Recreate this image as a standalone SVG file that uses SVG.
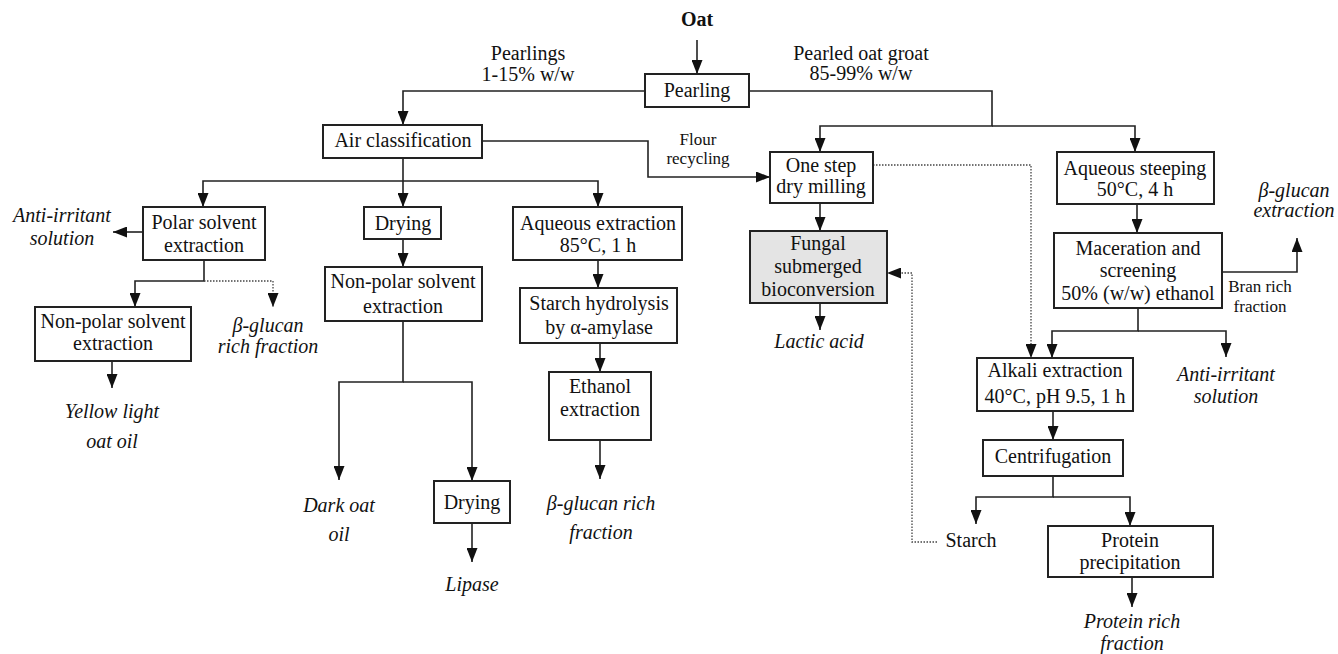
<svg xmlns="http://www.w3.org/2000/svg" width="1338" height="654" viewBox="0 0 1338 654">
<style>
.t{font-family:"Liberation Serif","Times New Roman",serif;font-size:20px;fill:#111;text-anchor:middle}
.i{font-style:italic}
.s{font-size:17px}
.b{font-weight:bold}
.box{fill:#fff;stroke:#222;stroke-width:2}
.grey{fill:#e4e4e4}
.c{fill:none;stroke:#222;stroke-width:1.6}
.d{fill:none;stroke:#444;stroke-width:1.3;stroke-dasharray:1.5,1.5}
</style>
<defs>
<marker id="ah" markerUnits="userSpaceOnUse" viewBox="0 0 14 11" refX="14" refY="5.5" markerWidth="14" markerHeight="11" orient="auto">
<path d="M0,0 L14,5.5 L0,11 z" fill="#111"/>
</marker>
</defs>
<rect width="1338" height="654" fill="#fff"/>
<g id="connectors">
<path class="c" d="M697,40 V74" marker-end="url(#ah)"/>
<path class="c" d="M645,91 H403 V125" marker-end="url(#ah)"/>
<path class="c" d="M749,91 H992 V126 H820 V152" marker-end="url(#ah)"/>
<path class="c" d="M992,126 H1135 V152" marker-end="url(#ah)"/>
<path class="c" d="M482,141 H648 V177 H770" marker-end="url(#ah)"/>
<path class="c" d="M403,158 V207" marker-end="url(#ah)"/>
<path class="c" d="M403,181 H203 V207" marker-end="url(#ah)"/>
<path class="c" d="M403,181 H598 V207" marker-end="url(#ah)"/>
<path class="c" d="M143,232 H113" marker-end="url(#ah)"/>
<path class="c" d="M204,260 V281 H135 V307" marker-end="url(#ah)"/>
<path class="d" d="M204,281 H273 V307" marker-end="url(#ah)"/>
<path class="c" d="M112,361 V388" marker-end="url(#ah)"/>
<path class="c" d="M403,239 V267" marker-end="url(#ah)"/>
<path class="c" d="M403,321 V382 H339 V480" marker-end="url(#ah)"/>
<path class="c" d="M403,382 H472 V481" marker-end="url(#ah)"/>
<path class="c" d="M472,523 V562" marker-end="url(#ah)"/>
<path class="c" d="M598,260 V288" marker-end="url(#ah)"/>
<path class="c" d="M600,343 V372" marker-end="url(#ah)"/>
<path class="c" d="M600,440 V479" marker-end="url(#ah)"/>
<path class="c" d="M820,203 V231" marker-end="url(#ah)"/>
<path class="c" d="M820,303 V330" marker-end="url(#ah)"/>
<path class="d" d="M873,165 H1031 V358" marker-end="url(#ah)"/>
<path class="d" d="M937,542 H912 V273 H887" marker-end="url(#ah)"/>
<path class="c" d="M1137,204 V233" marker-end="url(#ah)"/>
<path class="c" d="M1222,272 H1297 V238" marker-end="url(#ah)"/>
<path class="c" d="M1138,308 V331 H1052 V358" marker-end="url(#ah)"/>
<path class="c" d="M1138,331 H1226 V357" marker-end="url(#ah)"/>
<path class="c" d="M1053,411 V440" marker-end="url(#ah)"/>
<path class="c" d="M1053,476 V497 H976 V524" marker-end="url(#ah)"/>
<path class="c" d="M1053,497 H1130 V526" marker-end="url(#ah)"/>
<path class="c" d="M1132,577 V607" marker-end="url(#ah)"/>
</g>
<g id="labels">
<text class="t" x="528" y="60">Pearlings</text>
<text class="t" x="528" y="81">1-15% w/w</text>
<text class="t" x="861" y="60">Pearled oat groat</text>
<text class="t" x="861" y="80">85-99% w/w</text>
<text class="t s" x="698" y="145">Flour</text>
<text class="t s" x="698" y="164">recycling</text>
<text class="t s" x="1260" y="292">Bran rich</text>
<text class="t s" x="1260" y="312">fraction</text>
</g>
<g id="oat"><text class="t b" x="697" y="26">Oat</text></g>
<g id="pearling"><rect class="box" x="645" y="74" width="104" height="33"/><text class="t" x="697" y="97">Pearling</text></g>
<g id="air-classification"><rect class="box" x="323" y="125" width="159" height="33"/><text class="t" x="403" y="147">Air classification</text></g>
<g id="polar-solvent"><rect class="box" x="143" y="207" width="122" height="53"/><text class="t" x="204" y="229">Polar solvent</text><text class="t" x="204" y="252">extraction</text></g>
<g id="anti-irritant-left"><text class="t i" x="62" y="222">Anti-irritant</text><text class="t i" x="62" y="245">solution</text></g>
<g id="nonpolar-left"><rect class="box" x="35" y="307" width="156" height="54"/><text class="t" x="113" y="328">Non-polar solvent</text><text class="t" x="113" y="350">extraction</text></g>
<g id="beta-glucan-left"><text class="t i" x="268" y="332">β-glucan</text><text class="t i" x="268" y="353">rich fraction</text></g>
<g id="yellow-oil"><text class="t i" x="112" y="418">Yellow light</text><text class="t i" x="112" y="448">oat oil</text></g>
<g id="drying-1"><rect class="box" x="364" y="207" width="77" height="32"/><text class="t" x="403" y="230">Drying</text></g>
<g id="nonpolar-mid"><rect class="box" x="325" y="267" width="157" height="54"/><text class="t" x="403" y="288">Non-polar solvent</text><text class="t" x="403" y="313">extraction</text></g>
<g id="dark-oil"><text class="t i" x="339" y="512">Dark oat</text><text class="t i" x="339" y="541">oil</text></g>
<g id="drying-2"><rect class="box" x="434" y="481" width="76" height="42"/><text class="t" x="472" y="509">Drying</text></g>
<g id="lipase"><text class="t i" x="472" y="591">Lipase</text></g>
<g id="aqueous-extraction"><rect class="box" x="513" y="207" width="169" height="53"/><text class="t" x="598" y="230">Aqueous extraction</text><text class="t" x="598" y="252">85°C, 1 h</text></g>
<g id="starch-hydrolysis"><rect class="box" x="520" y="288" width="157" height="55"/><text class="t" x="599" y="310">Starch hydrolysis</text><text class="t" x="599" y="334">by α-amylase</text></g>
<g id="ethanol-extraction"><rect class="box" x="549" y="372" width="102" height="68"/><text class="t" x="600" y="393">Ethanol</text><text class="t" x="600" y="416">extraction</text></g>
<g id="beta-glucan-mid"><text class="t i" x="601" y="510">β-glucan rich</text><text class="t i" x="601" y="539">fraction</text></g>
<g id="one-step"><rect class="box" x="770" y="152" width="103" height="51"/><text class="t" x="821" y="172">One step</text><text class="t" x="821" y="193">dry milling</text></g>
<g id="fungal"><rect class="box grey" x="750" y="231" width="137" height="72"/><text class="t" x="818" y="250">Fungal</text><text class="t" x="818" y="273">submerged</text><text class="t" x="818" y="296">bioconversion</text></g>
<g id="lactic"><text class="t i" x="819" y="348">Lactic acid</text></g>
<g id="aqueous-steeping"><rect class="box" x="1057" y="152" width="157" height="52"/><text class="t" x="1135" y="175">Aqueous steeping</text><text class="t" x="1135" y="196">50°C, 4 h</text></g>
<g id="maceration"><rect class="box" x="1054" y="233" width="168" height="75"/><text class="t" x="1138" y="255">Maceration and</text><text class="t" x="1138" y="277">screening</text><text class="t" x="1138" y="300">50% (w/w) ethanol</text></g>
<g id="beta-glucan-right"><text class="t i" x="1294" y="197">β-glucan</text><text class="t i" x="1294" y="217">extraction</text></g>
<g id="alkali"><rect class="box" x="977" y="358" width="156" height="53"/><text class="t" x="1055" y="377">Alkali extraction</text><text class="t" x="1055" y="403">40°C, pH 9.5, 1 h</text></g>
<g id="anti-irritant-right"><text class="t i" x="1226" y="381">Anti-irritant</text><text class="t i" x="1226" y="403">solution</text></g>
<g id="centrifugation"><rect class="box" x="983" y="440" width="140" height="36"/><text class="t" x="1053" y="463">Centrifugation</text></g>
<g id="starch"><text class="t" x="971" y="547">Starch</text></g>
<g id="protein-precipitation"><rect class="box" x="1048" y="526" width="165" height="51"/><text class="t" x="1130" y="547">Protein</text><text class="t" x="1130" y="569">precipitation</text></g>
<g id="protein-rich"><text class="t i" x="1132" y="628">Protein rich</text><text class="t i" x="1132" y="650">fraction</text></g>
</svg>
